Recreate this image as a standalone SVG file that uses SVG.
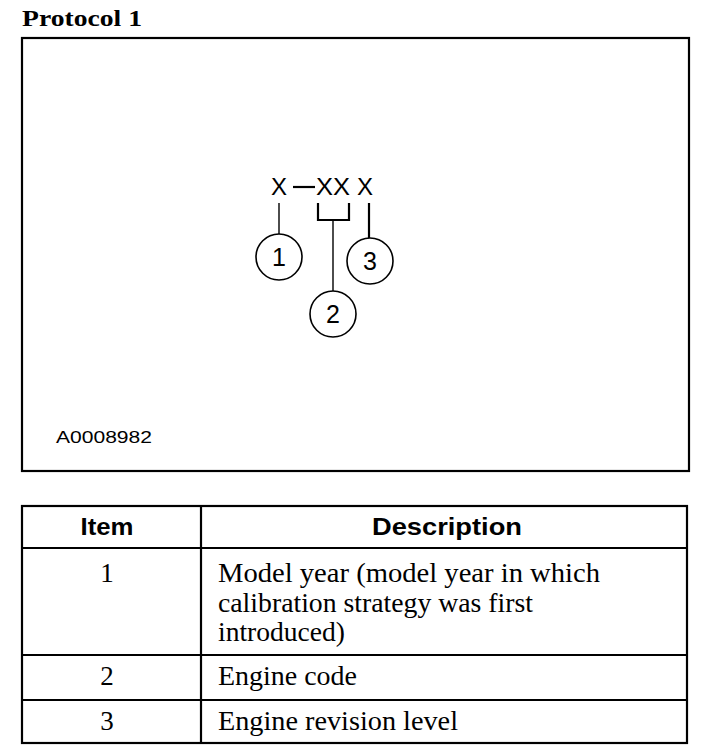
<svg xmlns="http://www.w3.org/2000/svg" width="704" height="756" viewBox="0 0 704 756">
<style>
.frame{fill:none;stroke:#000;stroke-width:2.2}
.ln{fill:none;stroke:#000;stroke-width:1.4}
.lnb{fill:none;stroke:#000;stroke-width:2.2}
.circ{fill:#fff;stroke:#000;stroke-width:1.6}
.sans{font-family:"Liberation Sans",Arial,sans-serif;fill:#000}
.serif{font-family:"Liberation Serif","Times New Roman",serif;fill:#000}
.num{font-family:"Liberation Sans",Arial,sans-serif;font-size:25px;text-anchor:middle;fill:#000}
.cell{font-family:"Liberation Serif","Times New Roman",serif;font-size:27px;fill:#000}
.hdr{font-family:"Liberation Sans",Arial,sans-serif;font-size:23px;font-weight:bold;text-anchor:middle;fill:#000}
</style>
<rect width="704" height="756" fill="#fff"/>
<text id="title" class="serif" x="22" y="26" font-size="23" font-weight="bold" textLength="120" lengthAdjust="spacingAndGlyphs">Protocol 1</text>
<rect id="figure" class="frame" x="22" y="38" width="667" height="433"/>
<g id="code">
<text class="sans" x="271" y="195" font-size="24">X</text>
<line class="lnb" x1="293" y1="187" x2="315" y2="187"/>
<text class="sans" x="316" y="195" font-size="24" textLength="34" lengthAdjust="spacingAndGlyphs">XX</text>
<text class="sans" x="357" y="195" font-size="24">X</text>
</g>
<g id="connectors">
<line class="ln" x1="279" y1="203" x2="279" y2="234"/>
<polyline class="lnb" points="318,203 318,220 349,220 349,203"/>
<line class="ln" x1="333" y1="220" x2="333" y2="291"/>
<line class="lnb" x1="369" y1="203" x2="369" y2="238"/>
</g>
<g id="node1"><circle class="circ" cx="279" cy="257" r="23"/><text class="num" x="279" y="266">1</text></g>
<g id="node2"><circle class="circ" cx="333" cy="314" r="23"/><text class="num" x="333" y="323">2</text></g>
<g id="node3"><circle class="circ" cx="370" cy="261" r="23"/><text class="num" x="370" y="270">3</text></g>
<text id="ref" class="sans" x="56" y="443" font-size="17" textLength="96" lengthAdjust="spacingAndGlyphs">A0008982</text>
<g id="table">
<rect class="frame" x="22" y="506" width="665" height="237"/>
<line class="lnb" x1="22" y1="548" x2="687" y2="548"/>
<line class="lnb" x1="22" y1="655" x2="687" y2="655"/>
<line class="lnb" x1="22" y1="700" x2="687" y2="700"/>
<line class="lnb" x1="201" y1="506" x2="201" y2="743"/>
<text class="hdr" x="107" y="535" textLength="53" lengthAdjust="spacingAndGlyphs">Item</text>
<text class="hdr" x="447" y="535" textLength="150" lengthAdjust="spacingAndGlyphs">Description</text>
<text class="cell" x="107" y="582" text-anchor="middle">1</text>
<text class="cell" x="218" y="582" textLength="382" lengthAdjust="spacingAndGlyphs">Model year (model year in which</text>
<text class="cell" x="218" y="612" textLength="315" lengthAdjust="spacingAndGlyphs">calibration strategy was first</text>
<text class="cell" x="218" y="641" textLength="127" lengthAdjust="spacingAndGlyphs">introduced)</text>
<text class="cell" x="107" y="685" text-anchor="middle">2</text>
<text class="cell" x="218" y="685" textLength="139" lengthAdjust="spacingAndGlyphs">Engine code</text>
<text class="cell" x="107" y="730" text-anchor="middle">3</text>
<text class="cell" x="218" y="730" textLength="240" lengthAdjust="spacingAndGlyphs">Engine revision level</text>
</g>
</svg>
